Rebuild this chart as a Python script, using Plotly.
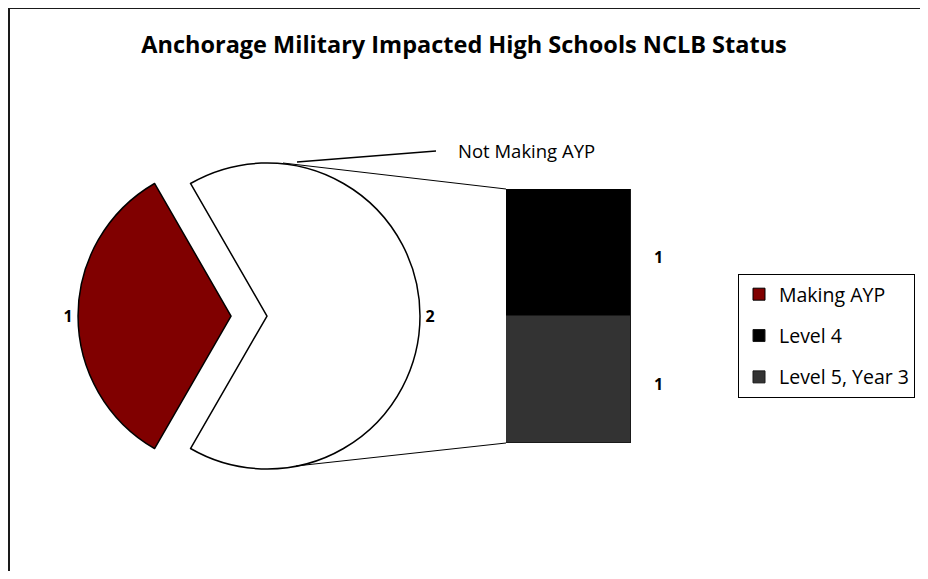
import plotly.graph_objects as go

# ---- data ----
title = "Anchorage Military Impacted High Schools NCLB Status"
pie_labels = ["Making AYP", "Not Making AYP"]
pie_values = [1, 2]
pie_colors = ["#800000", "#FFFFFF"]
bar_labels = ["Level 5, Year 3", "Level 4"]   # stacked bottom -> top
bar_values = [1, 1]
bar_colors = ["#333333", "#000000"]

OFF = 8  # page body margin
W, H = 928 - 2 * OFF, 579 - 2 * OFF

# ---- layout geometry (screen pixels) ----
pie_cx, pie_cy, pie_r = 267, 316, 153
pull = 0.235
half = pie_r * (1 + pull)
bar_x0, bar_x1 = 506, 631
bar_top, bar_bot = 189, 443

def px(x):
    return (x - OFF) / W

def py(y):
    return 1 - (y - OFF) / H

FONT = "Open Sans"

fig = go.Figure()

fig.add_trace(go.Pie(
    labels=pie_labels, values=pie_values, sort=False, direction="clockwise",
    rotation=210, pull=[pull, 0],
    marker=dict(colors=pie_colors, line=dict(color="#000000", width=1.5)),
    textinfo="value", textposition="outside",
    outsidetextfont=dict(family=FONT, size=16, color="#000000", weight="bold"),
    domain=dict(x=[px(pie_cx - half), px(pie_cx + half)],
                y=[py(pie_cy + half), py(pie_cy - half)]),
    showlegend=False, hoverinfo="label+value",
))

# legend entry for the pie's detached slice
fig.add_trace(go.Bar(
    x=[None], y=[None], name=pie_labels[0],
    marker=dict(color=pie_colors[0], line=dict(color="#000000", width=1)),
    legendrank=1, legendgroup="a",
))

ranks = {"Level 4": 2, "Level 5, Year 3": 3}
for lab, val, col in zip(bar_labels, bar_values, bar_colors):
    fig.add_trace(go.Bar(
        x=[pie_labels[1]], y=[val], name=lab,
        marker=dict(color=col, line=dict(color="#1a1a1a", width=1)),
        legendrank=ranks[lab], legendgroup=lab, hoverinfo="name+y",
    ))

# value labels right of the stacked bar
cum = 0
for val in bar_values:
    fig.add_annotation(x=1, xref="x domain", y=cum + val / 2, yref="y",
                       text=f"<b>{val}</b>", showarrow=False, xanchor="left",
                       xshift=21, yshift=-4,
                       font=dict(family=FONT, size=16, color="#000000"))
    cum += val

# connector lines pie -> bar
fig.add_shape(type="line", xref="paper", yref="paper",
              x0=px(283), y0=py(163), x1=px(bar_x0), y1=py(bar_top),
              line=dict(color="#000000", width=1))
fig.add_shape(type="line", xref="paper", yref="paper",
              x0=px(296), y0=py(466), x1=px(bar_x0), y1=py(bar_bot),
              line=dict(color="#000000", width=1))
# leader line for "Not Making AYP"
fig.add_shape(type="line", xref="paper", yref="paper",
              x0=px(297), y0=py(162), x1=px(436), y1=py(151),
              line=dict(color="#000000", width=1.5))
fig.add_annotation(x=px(456), y=py(150), xref="paper", yref="paper",
                   text=pie_labels[1], showarrow=False, xanchor="left", yanchor="middle",
                   font=dict(family=FONT, size=18.5, color="#000000"))

# chart border
fig.add_shape(type="rect", xref="paper", yref="paper",
              x0=px(9), y0=py(8), x1=px(960), y1=py(620),
              line=dict(color="#1a1a1a", width=2))

fig.update_layout(
    width=W, height=H,
    margin=dict(l=0, r=0, t=0, b=0, autoexpand=False),
    paper_bgcolor="#FFFFFF", plot_bgcolor="#FFFFFF",
    barmode="stack", bargap=0,
    title=dict(text=f"<b>{title}</b>", x=px(464), y=py(45), xanchor="center",
               yanchor="middle", font=dict(family=FONT, size=23.5, color="#000000")),
    xaxis=dict(type="category", domain=[px(bar_x0), px(bar_x1)], range=[-0.5, 0.5],
               visible=False, fixedrange=True),
    yaxis=dict(domain=[py(bar_bot), py(bar_top)], range=[0, 2], visible=False,
               fixedrange=True),
    legend=dict(x=px(738), y=py(274), xanchor="left", yanchor="top",
                bgcolor="#FFFFFF", bordercolor="#000000", borderwidth=1,
                traceorder="grouped", tracegroupgap=13, itemwidth=30,
                font=dict(family=FONT, size=19.5, color="#000000")),
    font=dict(family=FONT),
)

fig.write_html("out.html")
